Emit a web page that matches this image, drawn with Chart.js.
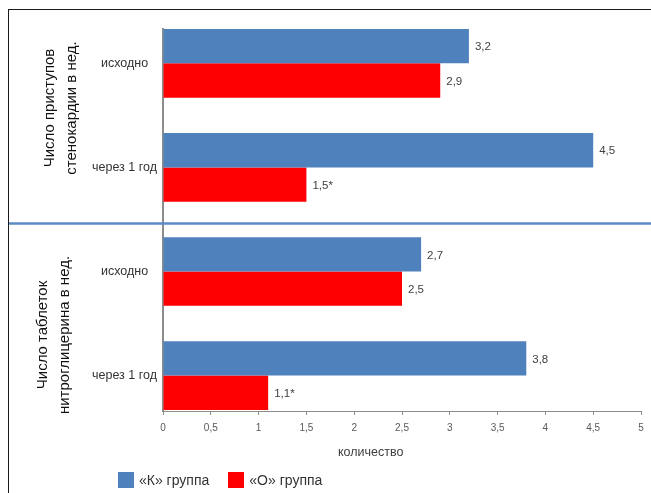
<!DOCTYPE html>
<html lang="ru">
<head>
<meta charset="utf-8">
<script src="https://cdn.jsdelivr.net/npm/chart.js@4.4.1/dist/chart.umd.min.js"></script>
<style>
  html, body { margin: 0; padding: 0; background: #fff; }
  #wrap { position: relative; width: 651px; height: 493px; overflow: hidden; font-family: "Liberation Sans", Arial, sans-serif; }
  #frame { position: absolute; left: 8px; top: 9px; width: 660px; height: 500px; border-top: 1.5px solid #1a1a1a; border-left: 1.5px solid #1a1a1a; }
  canvas { position: absolute; left: 0; top: 0; }
  #xtitle { position: absolute; left: 338px; top: 445px; font-size: 12.5px; color: #404040; }
  #legend { position: absolute; left: 118px; top: 472px; display: flex; gap: 19px; font-size: 14px; color: #333; }
  #legend span { display: flex; align-items: center; gap: 5px; }
  #legend i { display: inline-block; width: 16px; height: 16px; }
</style>
</head>
<body>
<div id="wrap">
  <div id="frame"></div>
  <canvas id="chart" width="651" height="493"></canvas>
  <div id="xtitle">количество</div>
  <div id="legend"></div>
</div>
<script>
// подписи строк (сверху вниз)
const rowLabels = ['исходно', 'через 1 год', 'исходно', 'через 1 год'];
// показатели (две строки подписи у каждого)
const groupTitles = [
  ['Число приступов', 'стенокардии в нед.'],
  ['Число таблеток', 'нитроглицерина в нед.']
];
const seriesNames = ['«К» группа', '«О» группа'];
const seriesColors = ['#4f81bd', '#ff0000'];
const kValues = [3.2, 4.5, 2.7, 3.8];
const oValues = [2.9, 1.5, 2.5, 1.1];
const oSignif = [false, true, false, true]; // звездочка = достоверно
const xTicks = [0, 0.5, 1, 1.5, 2, 2.5, 3, 3.5, 4, 4.5, 5];

const fmt = v => String(v).replace('.', ',');

const valueLabels = {
  id: 'valueLabels',
  afterDatasetsDraw(chart) {
    const { ctx } = chart;
    ctx.save();
    ctx.font = '11.5px "Liberation Sans"';
    ctx.fillStyle = '#404040';
    ctx.textBaseline = 'middle';
    chart.data.datasets.forEach((ds, di) => {
      chart.getDatasetMeta(di).data.forEach((bar, i) => {
        let txt = fmt(ds.data[i].x);
        if (di === 1 && oSignif[i]) txt += '*';
        ctx.fillText(txt, bar.x + 6, bar.y + 1);
      });
    });
    ctx.restore();
  }
};

const decor = {
  id: 'decor',
  afterDraw(chart) {
    const { ctx, scales: { y } } = chart;
    ctx.save();
    // линия между двумя показателями
    const sepY = (y.getPixelForValue(1) + y.getPixelForValue(2)) / 2 + 4;
    ctx.strokeStyle = '#5b8ac6';
    ctx.lineWidth = 2.5;
    ctx.beginPath();
    ctx.moveTo(9, sepY);
    ctx.lineTo(chart.width, sepY);
    ctx.stroke();

    // вертикальные заголовки групп
    const centers = [[61, 108], [54, 335]];
    ctx.fillStyle = '#111';
    ctx.font = '15px "Liberation Sans"';
    ctx.textAlign = 'center';
    ctx.textBaseline = 'middle';
    groupTitles.forEach((lines, g) => {
      ctx.save();
      ctx.translate(centers[g][0], centers[g][1]);
      ctx.rotate(-Math.PI / 2);
      lines.forEach((t, k) => ctx.fillText(t, 0, (k - (lines.length - 1) / 2) * 22));
      ctx.restore();
    });
    ctx.restore();
  }
};

new Chart(document.getElementById('chart'), {
  type: 'bar',
  data: {
    datasets: [
      {
        label: seriesNames[0],
        data: kValues.map((v, i) => ({ x: v, y: i })),
        backgroundColor: seriesColors[0],
        borderWidth: 0
      },
      {
        label: seriesNames[1],
        data: oValues.map((v, i) => ({ x: v, y: i })),
        backgroundColor: seriesColors[1],
        borderWidth: 0
      }
    ]
  },
  options: {
    indexAxis: 'y',
    responsive: false,
    animation: false,
    categoryPercentage: 0.66,
    barPercentage: 1,
    layout: { padding: { left: 0, right: 10, top: 29, bottom: 0 } },
    plugins: {
      legend: { display: false },
      tooltip: { enabled: false }
    },
    scales: {
      y: {
        type: 'linear',
        reverse: true,
        offset: false,
        min: -0.33,
        max: 3.34,
        afterFit: s => { s.width = 163; },
        afterBuildTicks: s => { s.ticks = rowLabels.map((_, i) => ({ value: i })); },
        grid: { display: true, offset: false, drawOnChartArea: false, drawTicks: false },
        border: { color: '#8c8c8c', width: 2 },
        ticks: {
          crossAlign: 'center',
          padding: 6,
          color: '#333',
          font: { family: 'Liberation Sans', size: 12.5 },
          callback: v => rowLabels[v] ?? ''
        }
      },
      x: {
        min: 0,
        max: 5,
        afterFit: s => { s.height = 82; },
        afterBuildTicks: s => { s.ticks = xTicks.map(v => ({ value: v })); },
        grid: { drawOnChartArea: false, tickLength: 4, color: '#8c8c8c' },
        border: { color: '#8c8c8c', width: 1 },
        ticks: {
          padding: 7,
          color: '#595959',
          font: { family: 'Liberation Sans', size: 10 },
          callback: v => fmt(v)
        }
      }
    }
  },
  plugins: [valueLabels, decor]
});

// легенда
const legend = document.getElementById('legend');
seriesNames.forEach((name, i) => {
  const item = document.createElement('span');
  item.innerHTML = '<i style="background:' + seriesColors[i] + '"></i>' + name;
  legend.appendChild(item);
});
</script>
</body>
</html>
